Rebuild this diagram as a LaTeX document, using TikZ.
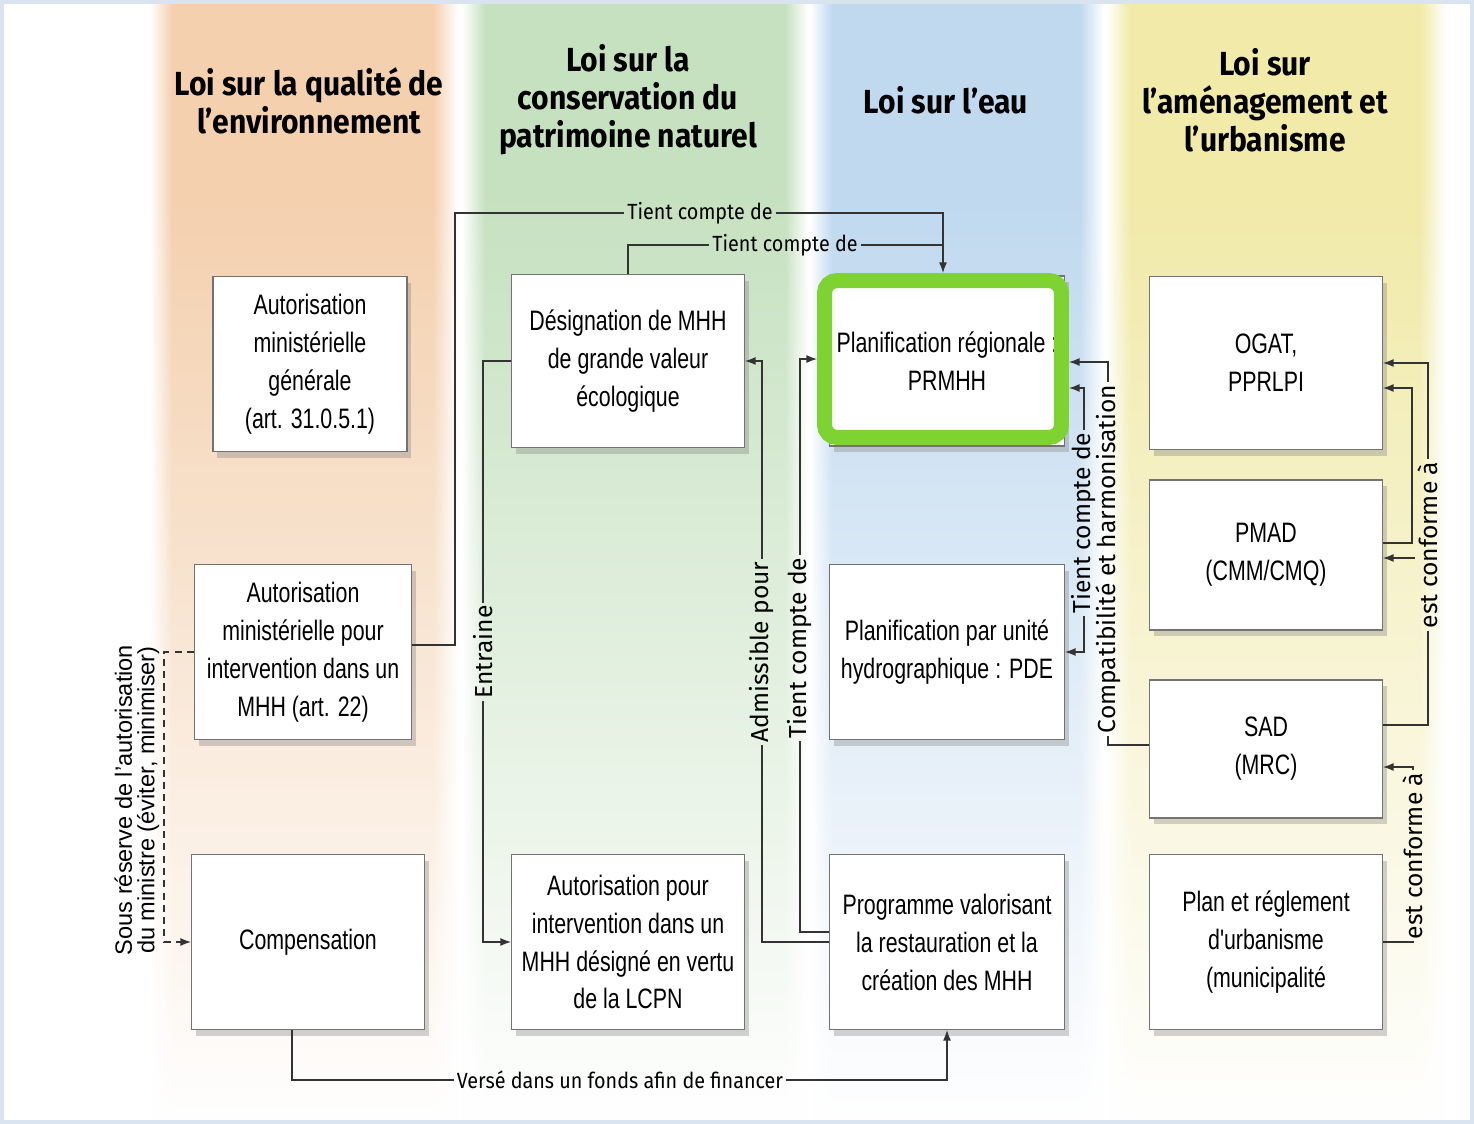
\documentclass[tikz,border=0pt]{standalone}
\usepackage{fontspec}
\setmainfont{Liberation Sans}
\newfontfamily\boxfont[FakeStretch=0.76]{Liberation Sans}
\newfontfamily\headfont[FakeStretch=0.9]{Fira Sans}
\newfontfamily\labfont[FakeStretch=0.9]{Fira Sans}
\newfontfamily\vlabfont{Fira Sans}
\usetikzlibrary{arrows.meta,shadows,fadings}

\definecolor{peach}{RGB}{244,208,174}
\definecolor{sage}{RGB}{198,225,192}
\definecolor{sky}{RGB}{192,217,239}
\definecolor{straw}{RGB}{241,234,168}
\definecolor{hlgreen}{RGB}{126,211,50}
\definecolor{framecol}{RGB}{218,228,240}

\tikzfading[name=fadeup, top color=transparent!100, bottom color=transparent!0]

\tikzset{
  box/.style={draw=black!55, fill=white, line width=0.6pt, align=center,
    font=\boxfont\fontsize{16}{21.6}\selectfont, inner sep=2pt,
    drop shadow={shadow xshift=2.5pt, shadow yshift=-3.5pt, opacity=0.35}},
  head/.style={align=center, font=\headfont\bfseries\fontsize{19}{21.6}\selectfont},
  link/.style={line width=0.7pt, draw=black!80},
  lbl/.style={font=\labfont\fontsize{12.5}{14}\selectfont, inner sep=1.5pt},
  vlbl/.style={rotate=90, font=\vlabfont\fontsize{14}{16}\selectfont, inner sep=1.5pt}
}

\begin{document}
\begin{tikzpicture}[x=0.02cm, y=-0.02cm, >={Latex[length=6pt,width=4.5pt]}]
  \useasboundingbox (0,0) rectangle (1474,1124);

  % colour bands of the four laws
  \shade[left color=white, right color=peach] (150,0) rectangle (172,1124);
  \fill[peach] (172,0) rectangle (433,1124);
  \shade[left color=peach, right color=white] (433,0) rectangle (458,1124);

  \shade[left color=white, right color=sage] (462,0) rectangle (485,1124);
  \fill[sage] (485,0) rectangle (785,1124);
  \shade[left color=sage, right color=white] (785,0) rectangle (808,1124);

  \shade[left color=white, right color=sky] (810,0) rectangle (832,1124);
  \fill[sky] (832,0) rectangle (1080,1124);
  \shade[left color=sky, right color=white] (1080,0) rectangle (1104,1124);

  \shade[left color=white, right color=straw] (1106,0) rectangle (1130,1124);
  \fill[straw] (1130,0) rectangle (1420,1124);
  \shade[left color=straw, right color=white] (1420,0) rectangle (1446,1124);

  \fill[white, path fading=fadeup] (0,190) rectangle (1474,1124);
  \draw[framecol, line width=0.16cm] (0,0) rectangle (1474,1124);

  % headers
  \node[head] (h1) at (309,101) {Loi sur la qualité de\\l’environnement};
  \node[head] (h2) at (628,100) {Loi sur la\\conservation du\\patrimoine naturel};
  \node[head] (h3) at (946,100) {Loi sur l’eau};
  \node[head] (h4) at (1265,100) {Loi sur\\l’aménagement et\\l’urbanisme};

  % boxes
  \node[box, minimum width=3.88cm, minimum height=3.5cm] (amg) at (310,364)
    {Autorisation\\ministérielle\\générale\\(art. 31.0.5.1)};
  \node[box, minimum width=4.34cm, minimum height=3.5cm] (ami) at (303,652)
    {Autorisation\\ministérielle pour\\intervention dans un\\MHH (art. 22)};
  \node[box, minimum width=4.66cm, minimum height=3.5cm] (comp) at (308,942)
    {Compensation};

  \node[box, minimum width=4.66cm, minimum height=3.46cm] (dmhh) at (628,361)
    {Désignation de MHH\\de grande valeur\\écologique};
  \node[box, minimum width=4.66cm, minimum height=3.5cm] (apim) at (628,942)
    {Autorisation pour\\intervention dans un\\MHH désigné en vertu\\de la LCPN};

  \node[box, minimum width=4.7cm, minimum height=3.4cm] (prmhh) at (947,361)
    {Planification régionale :\\PRMHH};
  \node[box, minimum width=4.7cm, minimum height=3.5cm] (pde) at (947,652)
    {Planification par unité\\hydrographique : PDE};
  \node[box, minimum width=4.7cm, minimum height=3.5cm] (prog) at (947,942)
    {Programme valorisant\\la restauration et la\\création des MHH};

  \node[box, minimum width=4.66cm, minimum height=3.46cm] (ogat) at (1266,363)
    {OGAT,\\PPRLPI};
  \node[box, minimum width=4.66cm, minimum height=3.0cm] (pmad) at (1266,555)
    {PMAD\\(CMM/CMQ)};
  \node[box, minimum width=4.66cm, minimum height=2.76cm] (sad) at (1266,749)
    {SAD\\(MRC)};
  \node[box, minimum width=4.66cm, minimum height=3.5cm] (plan) at (1266,942)
    {Plan et réglement\\d'urbanisme\\(municipalité};

  % highlight
  \node[draw=hlgreen, line width=0.3cm, rounded corners=0.25cm,
    minimum width=4.74cm, minimum height=3.14cm] (hl) at (943,359) {};

  % tient compte de (top)
  \node[lbl] (tc1) at (700,213) {Tient compte de};
  \node[lbl] (tc2) at (785,245) {Tient compte de};
  \draw[link] ([yshift=0.14cm]ami.east) -- ++(43,0) |- (tc1.west);
  \draw[link, ->] (tc1.east) -| (hl.north);
  \draw[link] (dmhh.north) |- (tc2.west);
  \draw[link] (tc2.east) -- (tc2.east -| hl.north);

  % entraine
  \node[vlbl] (ent) at (483,652) {Entraine};
  \draw[link] (dmhh.west) -| (ent.east);
  \draw[link, ->] (ent.west) |- (apim.west);

  % admissible pour / tient compte de
  \node[vlbl] (adm) at (762,652) {Admissible pour};
  \node[vlbl] (tcv) at (800,648) {Tient compte de};
  \draw[link] (prog.west) -| (adm.west);
  \draw[link, ->] (adm.east) |- (dmhh.east);
  \draw[link] ([yshift=0.2cm]prog.west) -| (tcv.west);
  \draw[link, ->] (tcv.east) |- (hl.west);

  % right of the PRMHH
  \node[vlbl] (comh) at (1108,559) {Compatibilité et harmonisation};
  \node[vlbl] (tcr) at (1084,523) {Tient compte de};
  \draw[link] ([yshift=0.08cm]sad.west) -| (comh.west);
  \draw[link, ->] (comh.east) |- ([yshift=-0.06cm]hl.east);
  \draw[link, ->] (tcr.east) |- ([yshift=-0.58cm]hl.east);
  \draw[link, ->] (tcr.west) |- (pde.east);

  % est conforme a
  \node[vlbl] (conf1) at (1428,545) {est conforme à};
  \node[vlbl] (conf2) at (1413,856) {est conforme à};
  \draw[link] ([yshift=0.48cm]sad.east) -| (conf1.west);
  \draw[link, ->] (conf1.east) |- (ogat.east);
  \draw[link, ->] ([yshift=-0.06cm]pmad.east -| conf1.north) -- ([yshift=-0.06cm]pmad.east);
  \draw[link, ->] ([yshift=0.24cm]pmad.east) -- ++(29,0) |- ([yshift=-0.5cm]ogat.east);
  \draw[link] (plan.east) -| (conf2.west);
  \draw[link, ->] (conf2.east) |- ([yshift=-0.36cm]sad.east);

  % sous reserve
  \node[rotate=90, align=center, font=\fontsize{13.4}{12.8}\selectfont] (res) at (137,800)
    {Sous réserve de l'autorisation\\du ministre (éviter, minimiser)};
  \draw[link, dash pattern=on 4pt off 3pt, ->] (ami.west) -- ++(-30,0) |- (comp.west);

  % verse
  \node[lbl] (verse) at (620,1080) {Versé dans un fonds afin de financer};
  \draw[link] ([xshift=-0.32cm]comp.south) |- (verse.west);
  \draw[link, ->] (verse.east) -| (prog.south);

\end{tikzpicture}
\end{document}
